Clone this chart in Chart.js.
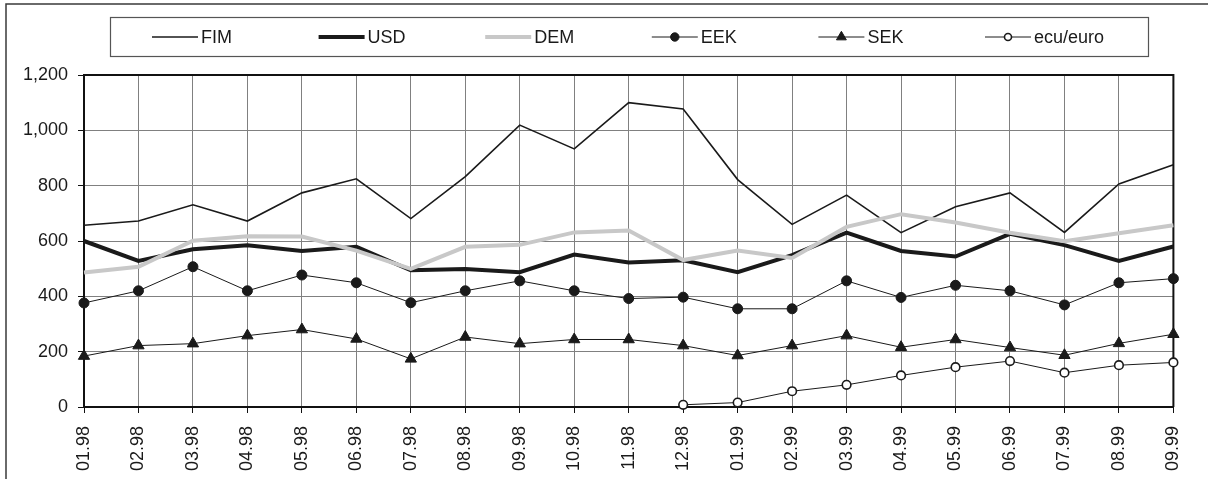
<!DOCTYPE html>
<html>
<head>
<meta charset="utf-8">
<script src="https://cdn.jsdelivr.net/npm/chart.js@4/dist/chart.umd.min.js"></script>
<style>
  html, body { margin: 0; padding: 0; background: #fff; }
  #wrap { width: 1208px; height: 479px; position: relative; }
</style>
</head>
<body>
<div id="wrap"><canvas id="c" width="1208" height="479"></canvas></div>
<script>
// Month labels (MM.YY)
const months = ['01.98','02.98','03.98','04.98','05.98','06.98','07.98','08.98','09.98','10.98','11.98',
                '12.98','01.99','02.99','03.99','04.99','05.99','06.99','07.99','08.99','09.99'];

// Series values
const fim = [657, 672, 731, 672, 774, 825, 681, 833, 1019, 933, 1100, 1077, 822, 660, 766, 630, 724, 774, 631, 806, 876];
const usd = [600, 528, 570, 585, 564, 579, 494, 499, 487, 551, 522, 530, 487, 549, 630, 564, 544, 626, 585, 528, 580];
const dem = [486, 507, 601, 617, 616, 565, 499, 579, 586, 631, 638, 531, 566, 539, 651, 697, 667, 630, 599, 628, 657];
const eek = [376, 420, 507, 420, 477, 449, 377, 420, 456, 420, 392, 397, 355, 355, 456, 396, 440, 420, 369, 449, 464];
const sek = [184, 222, 229, 258, 280, 246, 174, 253, 229, 244, 244, 222, 186, 222, 258, 216, 244, 215, 187, 230, 263];
const ecuEuro = [null, null, null, null, null, null, null, null, null, null, null,
                 8, 16, 57, 80, 114, 144, 166, 124, 151, 161];

// Y axis range
const yMin = 0, yMax = 1200, yStep = 200;

const FONT = '"Liberation Sans", Arial, sans-serif';
const TEXT = '#1a1a1a';

const datasets = [
  { label: 'FIM', data: fim, borderColor: '#1a1a1a', borderWidth: 1.6, pointRadius: 0, order: 6 },
  { label: 'USD', data: usd, borderColor: '#1a1a1a', borderWidth: 4, pointRadius: 0, order: 5 },
  { label: 'DEM', data: dem, borderColor: '#c8c8c8', borderWidth: 4, pointRadius: 0, order: 4 },
  { label: 'EEK', data: eek, borderColor: '#1a1a1a', borderWidth: 1, pointStyle: 'circle',
    pointRadius: 5, pointBackgroundColor: '#1a1a1a', pointBorderColor: '#1a1a1a', pointBorderWidth: 1, order: 3 },
  { label: 'SEK', data: sek, borderColor: '#1a1a1a', borderWidth: 1, pointStyle: 'triangle',
    pointRadius: 6.5, pointBackgroundColor: '#1a1a1a', pointBorderColor: '#1a1a1a', pointBorderWidth: 1, order: 2 },
  { label: 'ecu/euro', data: ecuEuro, borderColor: '#1a1a1a', borderWidth: 1, pointStyle: 'circle',
    pointRadius: 4.3, pointBackgroundColor: '#ffffff', pointBorderColor: '#1a1a1a', pointBorderWidth: 1.6, order: 1 }
];
datasets.forEach(d => { d.fill = false; d.tension = 0; d.clip = false; d.spanGaps = false; });

// Page background, outer frame and legend box
const framePlugin = {
  id: 'frameAndLegend',
  beforeDraw(chart) {
    const ctx = chart.ctx;
    ctx.save();
    ctx.fillStyle = '#fff';
    ctx.fillRect(0, 0, chart.width, chart.height);
    ctx.strokeStyle = '#3a3a3a';
    ctx.lineWidth = 1.5;
    ctx.beginPath();
    ctx.moveTo(6, chart.height + 2);
    ctx.lineTo(6, 4);
    ctx.lineTo(chart.width + 2, 4);
    ctx.stroke();
    ctx.restore();
  },
  beforeDatasetsDraw(chart) {
    const { ctx, chartArea: a } = chart;
    ctx.save();
    ctx.strokeStyle = '#111';
    ctx.lineWidth = 2;
    ctx.beginPath();
    ctx.moveTo(a.left, a.top);
    ctx.lineTo(a.right, a.top);
    ctx.lineTo(a.right, a.bottom);
    ctx.stroke();
    ctx.restore();
  },
  afterDraw(chart) {
    const ctx = chart.ctx;
    const box = { l: 110, t: 17, r: 1148, b: 56 };
    ctx.save();
    ctx.strokeStyle = '#555';
    ctx.lineWidth = 1.2;
    ctx.strokeRect(box.l + 0.5, box.t + 0.5, box.r - box.l, box.b - box.t);
    const cy = (box.t + box.b) / 2 + 0.5;
    const step = 166.6, x0 = 152, len = 46;
    ctx.font = '18px ' + FONT;
    ctx.textBaseline = 'middle';
    ctx.fillStyle = TEXT;
    chart.data.datasets.forEach((ds, i) => {
      const x = x0 + step * i;
      ctx.strokeStyle = ds.borderColor;
      ctx.lineWidth = ds.borderWidth;
      ctx.beginPath();
      ctx.moveTo(x, cy);
      ctx.lineTo(x + len, cy);
      ctx.stroke();
      if (ds.pointRadius) {
        ctx.fillStyle = ds.pointBackgroundColor;
        ctx.strokeStyle = ds.pointBorderColor;
        ctx.lineWidth = ds.pointBorderWidth;
        Chart.helpers.drawPoint(ctx, { pointStyle: ds.pointStyle, radius: ds.pointRadius - 0.8, borderWidth: ds.pointBorderWidth }, x + len / 2, cy);
      }
      ctx.fillStyle = TEXT;
      ctx.fillText(ds.label, x + len + 3, cy + 1);
    });
    ctx.restore();
  }
};

new Chart(document.getElementById('c'), {
  type: 'line',
  data: { labels: months, datasets },
  options: {
    responsive: false,
    animation: false,
    events: [],
    layout: { padding: { left: 0, top: 75, right: 29, bottom: 0 } },
    plugins: { legend: { display: false }, tooltip: { enabled: false } },
    scales: {
      x: {
        type: 'category',
        offset: false,
        grid: { color: '#808080', lineWidth: 1, tickColor: '#111', tickLength: 6, drawTicks: true },
        border: { color: '#111', width: 2 },
        ticks: { minRotation: 90, maxRotation: 90, autoSkip: false, padding: 13,
                 color: TEXT, font: { family: FONT, size: 18 } },
        afterFit(s) { s.height = 72; }
      },
      y: {
        min: yMin, max: yMax,
        grid: { color: '#808080', lineWidth: 1, tickColor: '#111', tickLength: 6 },
        border: { color: '#111', width: 2 },
        ticks: { stepSize: yStep, padding: 10, color: TEXT, font: { family: FONT, size: 18 },
                 callback: v => v.toLocaleString('en-US') },
        afterFit(s) { s.width = 84; }
      }
    }
  },
  plugins: [framePlugin]
});
</script>
</body>
</html>
